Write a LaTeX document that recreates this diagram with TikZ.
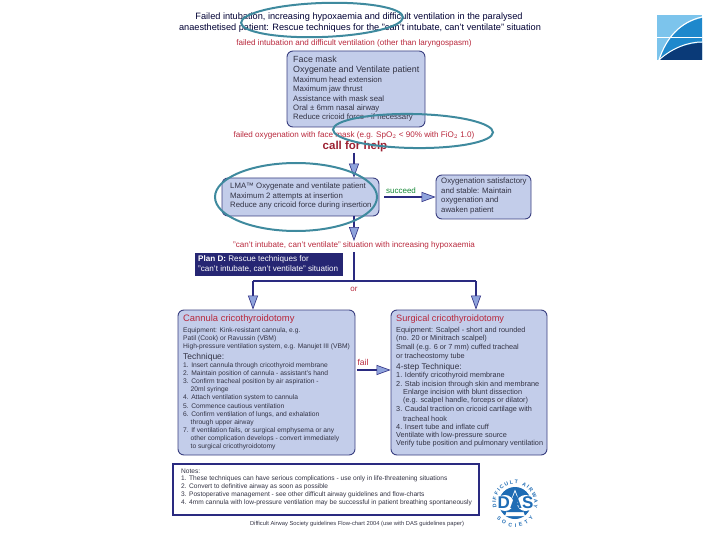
\documentclass[tikz,border=0pt]{standalone}
\usepackage{fontspec}
\setmainfont{Liberation Sans}
\usetikzlibrary{arrows.meta,decorations.text}
\definecolor{boxfill}{HTML}{C3CDEA}
\definecolor{boxline}{HTML}{3A3F80}
\definecolor{navy}{HTML}{2A2A80}
\definecolor{headfill}{HTML}{8FA3DC}
\definecolor{redtxt}{HTML}{B8283C}
\definecolor{teal}{HTML}{3F8A9E}
\definecolor{greytxt}{HTML}{333344}
\definecolor{dasblue}{HTML}{1F6CB4}
\definecolor{lglight}{HTML}{7CC4EC}
\definecolor{lgmid}{HTML}{1E88CC}
\definecolor{lgdark}{HTML}{0A3A78}
\tikzset{
  x=1pt,y=-1pt,
  rbox/.style={draw=boxline,fill=boxfill,line width=0.9pt,rounded corners=6pt},
  tline/.style={anchor=west,inner sep=0pt,text=greytxt,font=\fontsize{6.7}{7}\selectfont},
  tnote/.style={tline,font=\fontsize{6.6}{7}\selectfont},
  tface/.style={tline,font=\fontsize{7.8}{8}\selectfont},
  tsurg/.style={tline,font=\fontsize{7.3}{8}\selectfont},
  tbig/.style={tline,font=\fontsize{8.9}{10}\selectfont},
  rtxt/.style={inner sep=0pt,text=redtxt,font=\fontsize{8.1}{9}\selectfont},
  ttl/.style={inner sep=0pt,text=black!80!blue,font=\fontsize{9.2}{10}\selectfont},
  flow/.style={draw=navy,line width=2.4pt,-{Triangle[width=10pt,length=14pt,line width=0.6pt,fill=headfill]}},
  trunk/.style={draw=navy,line width=2.6pt},
  ring/.style={draw=teal,line width=2pt},
}
\begin{document}
\begin{tikzpicture}
\useasboundingbox (0,0) rectangle (720,540);
% corner logo
\fill[lglight] (657,15) rectangle (702,60);
\fill[lgmid] (702,18) .. controls (680,23) and (666,38) .. (659,60) -- (702,60) -- cycle;
\fill[lgdark] (702,43) .. controls (688,43) and (672,49) .. (659,60) -- (702,60) -- cycle;
\draw[white,line width=1.1pt] (702,17) .. controls (680,22) and (666,38) .. (659,60);
\draw[white,line width=1pt] (702,42) .. controls (688,42) and (672,48) .. (659,60);
\draw[white,line width=0.7pt] (657,37) -- (702,37);
% titles
\node[ttl] (t1) at (359,17) {Failed intubation, increasing hypoxaemia and difficult ventilation in the paralysed};
\node[ttl] (t2) at (360,28) {anaesthetised patient: Rescue techniques for the "can't intubate, can't ventilate" situation};
\node[rtxt] (r1) at (354,43) {failed intubation and difficult ventilation (other than laryngospasm)};
% face mask
\node[rbox,minimum width=138pt,minimum height=76pt] (face) at (356,89) {};
\node[tbig] (f1) at (293,59) {Face mask};
\node[tbig] (f2) at (293,70) {Oxygenate and Ventilate patient};
\node[tface] (f3) at (293,80) {Maximum head extension};
\node[tface] (f4) at (293,89.5) {Maximum jaw thrust};
\node[tface] (f5) at (293,99) {Assistance with mask seal};
\node[tface] (f6) at (293,108) {Oral ± 6mm nasal airway};
\node[tface] (f7) at (293,117.5) {Reduce cricoid force - if necessary};
\node[rtxt] (r2) at (354,135) {failed oxygenation with face mask (e.g. SpO$_2$ < 90\% with FiO$_2$ 1.0)};
\node[inner sep=0pt,text=redtxt!85!black,font=\fontsize{11.5}{12}\bfseries\selectfont] (help) at (355,147) {call for help};
% LMA
\node[rbox,minimum width=157pt,minimum height=38pt] (lma) at (300.5,197) {};
\node[tface] (l1) at (230,186.5) {LMA™ Oxygenate and ventilate patient};
\node[tface] (l2) at (230,196.5) {Maximum 2 attempts at insertion};
\node[tface] (l3) at (230,205) {Reduce any cricoid force during insertion};
\node[rbox,minimum width=95pt,minimum height=44pt] (ok) at (483.5,197) {};
\node[tface] (o1) at (441,181.5) {Oxygenation satisfactory};
\node[tface] (o2) at (441,191) {and stable: Maintain};
\node[tface] (o3) at (441,200.5) {oxygenation and};
\node[tface] (o4) at (441,210) {awaken patient};
\node[inner sep=0pt,text=green!50!teal!70!black,font=\fontsize{8}{9}\selectfont] (succ) at (401,190.5) {succeed};
\node[rtxt] (r3) at (354,245) {"can't intubate, can't ventilate" situation with increasing hypoxaemia};
% plan D
\node[fill=navy!90!black,minimum width=148pt,minimum height=23pt,inner sep=0pt] (plan) at (269,264.5) {};
\node[tline,text=white,font=\fontsize{8.1}{9}\selectfont] (p1) at (198,259.5) {\textbf{Plan D:} Rescue techniques for};
\node[tline,text=white,font=\fontsize{8.1}{9}\selectfont] (p2) at (198,269) {"can't intubate, can't ventilate" situation};
\coordinate (junc) at (354,252);
\coordinate (mid) at (354,281);
\coordinate (hl) at (253,281);
\coordinate (hr) at (476,281);
\coordinate (sa) at (384,197);
\coordinate (fa) at (357,370);
\node[inner sep=0pt,text=redtxt,font=\fontsize{8}{9}\selectfont] (orr) at (354,289.5) {or};
% cannula
\node[rbox,minimum width=177pt,minimum height=145pt] (can) at (266.5,382.5) {};
\node[tline,text=redtxt,font=\fontsize{9.4}{10}\selectfont] (c0) at (183,319) {Cannula cricothyroidotomy};
\foreach \nm/\y/\tx in {
 c1/331/{Equipment: Kink-resistant cannula, e.g.},
 c2/338.5/{Patil (Cook) or Ravussin (VBM)},
 c3/347/{High-pressure ventilation system, e.g. Manujet III (VBM)},
 c5/366/{1. Insert cannula through cricothyroid membrane},
 c6/374/{2. Maintain position of cannula - assistant's hand},
 c7/382/{3. Confirm tracheal position by air aspiration -},
 c9/398/{4. Attach ventilation system to cannula},
 c10/406.5/{5. Commence cautious ventilation},
 c11/414.5/{6. Confirm ventilation of lungs, and exhalation},
 c13/431/{7. If ventilation fails, or surgical emphysema or any}}
 {\node[tline] (\nm) at (183,\y) {\tx};}
\node[tline,font=\fontsize{8.5}{10}\selectfont] (c4) at (183,357) {Technique:};
\foreach \nm/\y/\tx in {
 c8/390/{20ml syringe},
 c12/422.5/{through upper airway},
 c14/439/{other complication develops - convert immediately},
 c15/447/{to surgical cricothyroidotomy}}
 {\node[tline] (\nm) at (190.5,\y) {\tx};}
% surgical
\node[rbox,minimum width=156pt,minimum height=145pt] (sur) at (469,382.5) {};
\node[tline,text=redtxt,font=\fontsize{9.2}{10}\selectfont] (s0) at (396,319) {Surgical cricothyroidotomy};
\foreach \nm/\y/\tx in {
 s1/330.5/{Equipment: Scalpel - short and rounded},
 s2/339/{(no. 20 or Minitrach scalpel)},
 s3/348/{Small (e.g. 6 or 7 mm) cuffed tracheal},
 s4/357/{or tracheostomy tube},
 s6/376/{1. Identify cricothyroid membrane},
 s7/385/{2. Stab incision through skin and membrane},
 s10/410/{3. Caudal traction on cricoid cartilage with},
 s12/427/{4. Insert tube and inflate cuff},
 s13/436/{Ventilate with low-pressure source},
 s14/444/{Verify tube position and pulmonary ventilation}}
 {\node[tsurg] (\nm) at (396,\y) {\tx};}
\node[tline,font=\fontsize{8.3}{10}\selectfont] (s5) at (396,367) {4-step Technique:};
\foreach \nm/\y/\tx in {
 s8/393/{Enlarge incision with blunt dissection},
 s9/401/{(e.g. scalpel handle, forceps or dilator)},
 s11/418.5/{tracheal hook}}
 {\node[tsurg] (\nm) at (403,\y) {\tx};}
\node[inner sep=0pt,text=redtxt,font=\fontsize{8.5}{9}\selectfont] (fl) at (363,362) {fail};
% connectors
\draw[flow] (help.south -| junc) -- (lma.north -| junc);
\draw[flow] (sa) -- (ok.west);
\draw[flow] (lma.south -| junc) -- (r3.north -| junc);
\draw[trunk] (junc) -- (mid);
\draw[trunk] (hr) -- (hl);
\draw[flow] (hl) -- (can.north -| hl);
\draw[flow] (hr) -- (sur.north -| hr);
\draw[flow] (fa) -- (sur.west |- fa);
% notes
\node[draw=navy,line width=1.4pt,fill=white,minimum width=306pt,minimum height=51pt] (notes) at (326,489.5) {};
\node[tnote] (n0) at (181,471) {Notes:};
\node[tnote] (n1) at (181,479) {1. These techniques can have serious complications - use only in life-threatening situations};
\node[tnote] (n2) at (181,487) {2. Convert to definitive airway as soon as possible};
\node[tnote] (n3) at (181,495) {3. Postoperative management - see other difficult airway guidelines and flow-charts};
\node[tnote] (n4) at (181,503) {4. 4mm cannula with low-pressure ventilation may be successful in patient breathing spontaneously};
\node[inner sep=0pt,text=greytxt,font=\fontsize{5.8}{7}\selectfont] (foot) at (357,524) {Difficult Airway Society guidelines Flow-chart 2004 (use with DAS guidelines paper)};
% DAS logo
\fill[dasblue] (515,503) circle (16);
\fill[white] (515,489.5) -- (525,516) -- (505,516) -- cycle;
\fill[dasblue] (515,492) -- (523.5,512) -- (506.5,512) -- cycle;
\fill[white] (505,503) ellipse (8.5 and 8);
\fill[white] (525.5,503) ellipse (8.5 and 8);
\node[inner sep=0pt,text=dasblue,font=\fontsize{17}{18}\bfseries\selectfont] (das) at (515.5,503) {DAS};
\path[decorate,decoration={text along path,text align=fit to path,text={|\fontsize{5.2}{6}\bfseries\selectfont\color{dasblue}|DIFFICULT AIRWAY}}] (515,503) ++(165:19) arc[start angle=165,end angle=375,radius=19];
\path[decorate,decoration={text along path,text align=fit to path,text={|\fontsize{5.2}{6}\bfseries\selectfont\color{dasblue}|SOCIETY}}] (515,503) ++(140:24) arc[start angle=140,end angle=40,radius=24];
% rings
\draw[ring,rotate around={2:(322,20)}] (322,20) ellipse (81 and 17);
\draw[ring,rotate around={-1:(413,131)}] (413,131) ellipse (80 and 17);
\draw[ring] (296,197) ellipse (81 and 34);
\end{tikzpicture}
\end{document}
